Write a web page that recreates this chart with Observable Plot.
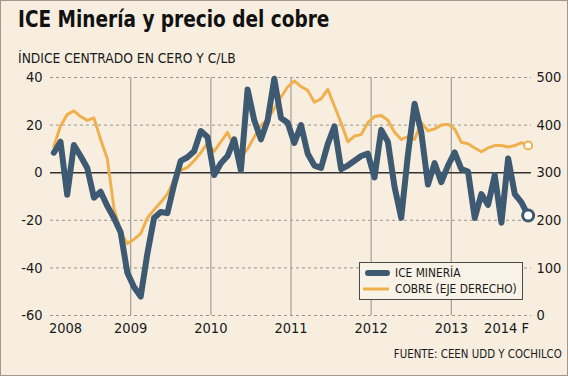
<!DOCTYPE html>
<html><head><meta charset="utf-8">
<script src="https://cdn.jsdelivr.net/npm/d3@7"></script>
<script src="https://cdn.jsdelivr.net/npm/@observablehq/plot@0.6"></script>
<style>
body{margin:0;background:#fff;}
#wrap{position:relative;width:568px;height:376px;background:#f7eee0;overflow:hidden;font-family:"DejaVu Sans Condensed","DejaVu Sans",sans-serif;color:#1a1a1a;}
#frame{position:absolute;left:0;top:0;width:566px;height:374px;border:1px solid #a3968c;pointer-events:none;}
#title{position:absolute;left:18px;top:5px;font-weight:bold;font-size:23.5px;white-space:nowrap;color:#111;transform:scaleX(0.875);transform-origin:left center;}
#subtitle{position:absolute;left:18px;top:50px;font-size:13.7px;white-space:nowrap;}
#chart{position:absolute;left:0;top:68px;}
#source{position:absolute;right:6px;top:346px;font-size:12.8px;white-space:nowrap;transform:scaleX(0.89);transform-origin:right center;}
#legend{position:absolute;left:359px;top:262px;width:164px;height:38px;box-sizing:border-box;border:1px solid #4a4a4a;background:#f9f2e6;}
#legend svg{position:absolute;left:0;top:0;}
.lt{position:absolute;left:35px;font-size:13px;white-space:nowrap;transform:scaleX(0.91);transform-origin:left center;}
</style>
</head><body>
<div id="wrap">
  <div id="title">ICE Minería y precio del cobre</div>
  <div id="subtitle">ÍNDICE CENTRADO EN CERO Y C/LB</div>
  <div id="chart"></div>
  <div id="legend">
    <svg width="164" height="38">
      <line x1="8" y1="10" x2="27" y2="10" stroke="#3e5a72" stroke-width="6" stroke-linecap="round"/>
      <line x1="3" y1="26" x2="29" y2="26" stroke="#f0b04e" stroke-width="3"/>
    </svg>
    <div class="lt" style="top:2px">ICE MINERÍA</div>
    <div class="lt" style="top:18px">COBRE (EJE DERECHO)</div>
  </div>
  <div id="source">FUENTE: CEEN UDD Y COCHILCO</div>
  <div id="frame"></div>
</div>
<script>
// Monthly series, Jan 2008 – Dec 2013
const startYear = 2008;
const ice = [8.4, 13, -9.3, 11.6, 7, 2, -10.5, -8, -14, -19,
  -25, -42, -48, -52, -34, -19, -16.5, -17, -5, 5,
  6.5, 9, 17.5, 15, -1, 4, 7, 14, 1, 35,
  22, 14, 22, 39.5, 23, 21, 12.5, 20, 8, 3,
  2, 12, 19.5, 1.5, 3, 5, 7, 8, -2, 18,
  13, -6, -19, 7.5, 29, 17, -5, 4, -4, 3,
  8.5, 1.5, 0.5, -19, -9, -13.5, -1, -21, 6, -9,
  -12.5, -18];
const cobre = [355, 398, 422, 430, 418, 410, 415, 370, 330, 225,
  175, 151, 160, 172, 205, 222, 238, 255, 285, 305,
  311, 325, 342, 362, 345, 365, 385, 352, 333, 350,
  375, 399, 412, 435, 459, 480, 493, 481, 473, 448,
  455, 475, 440, 405, 365, 377, 380, 405, 418, 420,
  410, 385, 370, 376, 370, 405, 388, 392, 400, 402,
  392, 364, 361, 352, 344, 352, 357, 357, 354, 357,
  363, 357];
const leftTicks = [-60, -40, -20, 0, 20, 40];
const rightTicks = [0, 100, 200, 300, 400, 500];
const yearTicks = [2009, 2010, 2011, 2012, 2013];
const yearLabels = ["2009", "2010", "2011", "2012", "2013"];
const firstLabel = "2008";
const lastLabel = "2014 F";

const toLeft = r => (r - 300) / 5; // right axis (c/lb) -> left axis units
const data = ice.map((v, i) => ({t: startYear + (i + 0.5) / 12, ice: v, cobre: cobre[i]}));
const last = data[data.length - 1];

const ICE_C = "#3e5a72", CU_C = "#f0b04e";

const chart = Plot.plot({
  width: 568, height: 277,
  marginLeft: 50, marginRight: 37, marginTop: 9, marginBottom: 30,
  x: {domain: [2008, 2014], axis: null},
  y: {domain: [-60, 40], axis: null},
  style: {fontFamily: "'DejaVu Sans Condensed','DejaVu Sans',sans-serif", fontSize: "14.5px", color: "#1a1a1a", background: "transparent", overflow: "visible"},
  marks: [
    Plot.ruleY(leftTicks.filter(d => d !== 0), {x1: 2008, x2: 2014, stroke: "#9a9590", strokeWidth: 1, strokeDasharray: "3,3"}),
    Plot.ruleX(yearTicks, {y1: -60, y2: 40, stroke: "#aca49b", strokeWidth: 1.3}),
    Plot.ruleY([0], {x1: 2008, x2: 2014, stroke: "#333", strokeWidth: 1.5}),
    Plot.line(data, {x: "t", y: d => toLeft(d.cobre), stroke: CU_C, strokeWidth: 3, strokeLinejoin: "round"}),
    Plot.line(data, {x: "t", y: "ice", stroke: ICE_C, strokeWidth: 6, strokeLinejoin: "round", strokeLinecap: "round"}),
    Plot.dot([last], {x: "t", y: d => toLeft(d.cobre), r: 4, fill: "#fff", stroke: CU_C, strokeWidth: 2}),
    Plot.dot([last], {x: "t", y: "ice", r: 5.5, fill: "#fff", stroke: ICE_C, strokeWidth: 3}),
    Plot.text(leftTicks, {x: 2008, y: d => d, text: d => String(d), dx: -8, textAnchor: "end", fill: "#1a1a1a"}),
    Plot.text(rightTicks, {x: 2014, y: d => toLeft(d), text: d => String(d), dx: 5, textAnchor: "start", fill: "#1a1a1a"}),
    Plot.text(yearTicks, {x: d => d, y: -60, text: (d, i) => yearLabels[i], dy: 13, lineAnchor: "middle", fill: "#1a1a1a"}),
    Plot.text([firstLabel], {x: 2008, y: -60, text: d => d, dx: 15, dy: 13, lineAnchor: "middle", fill: "#1a1a1a"}),
    Plot.text([lastLabel], {x: 2014, y: -60, text: d => d, dx: -25, dy: 13, lineAnchor: "middle", fill: "#1a1a1a"})
  ]
});
document.getElementById("chart").appendChild(chart);
</script>
</body></html>
